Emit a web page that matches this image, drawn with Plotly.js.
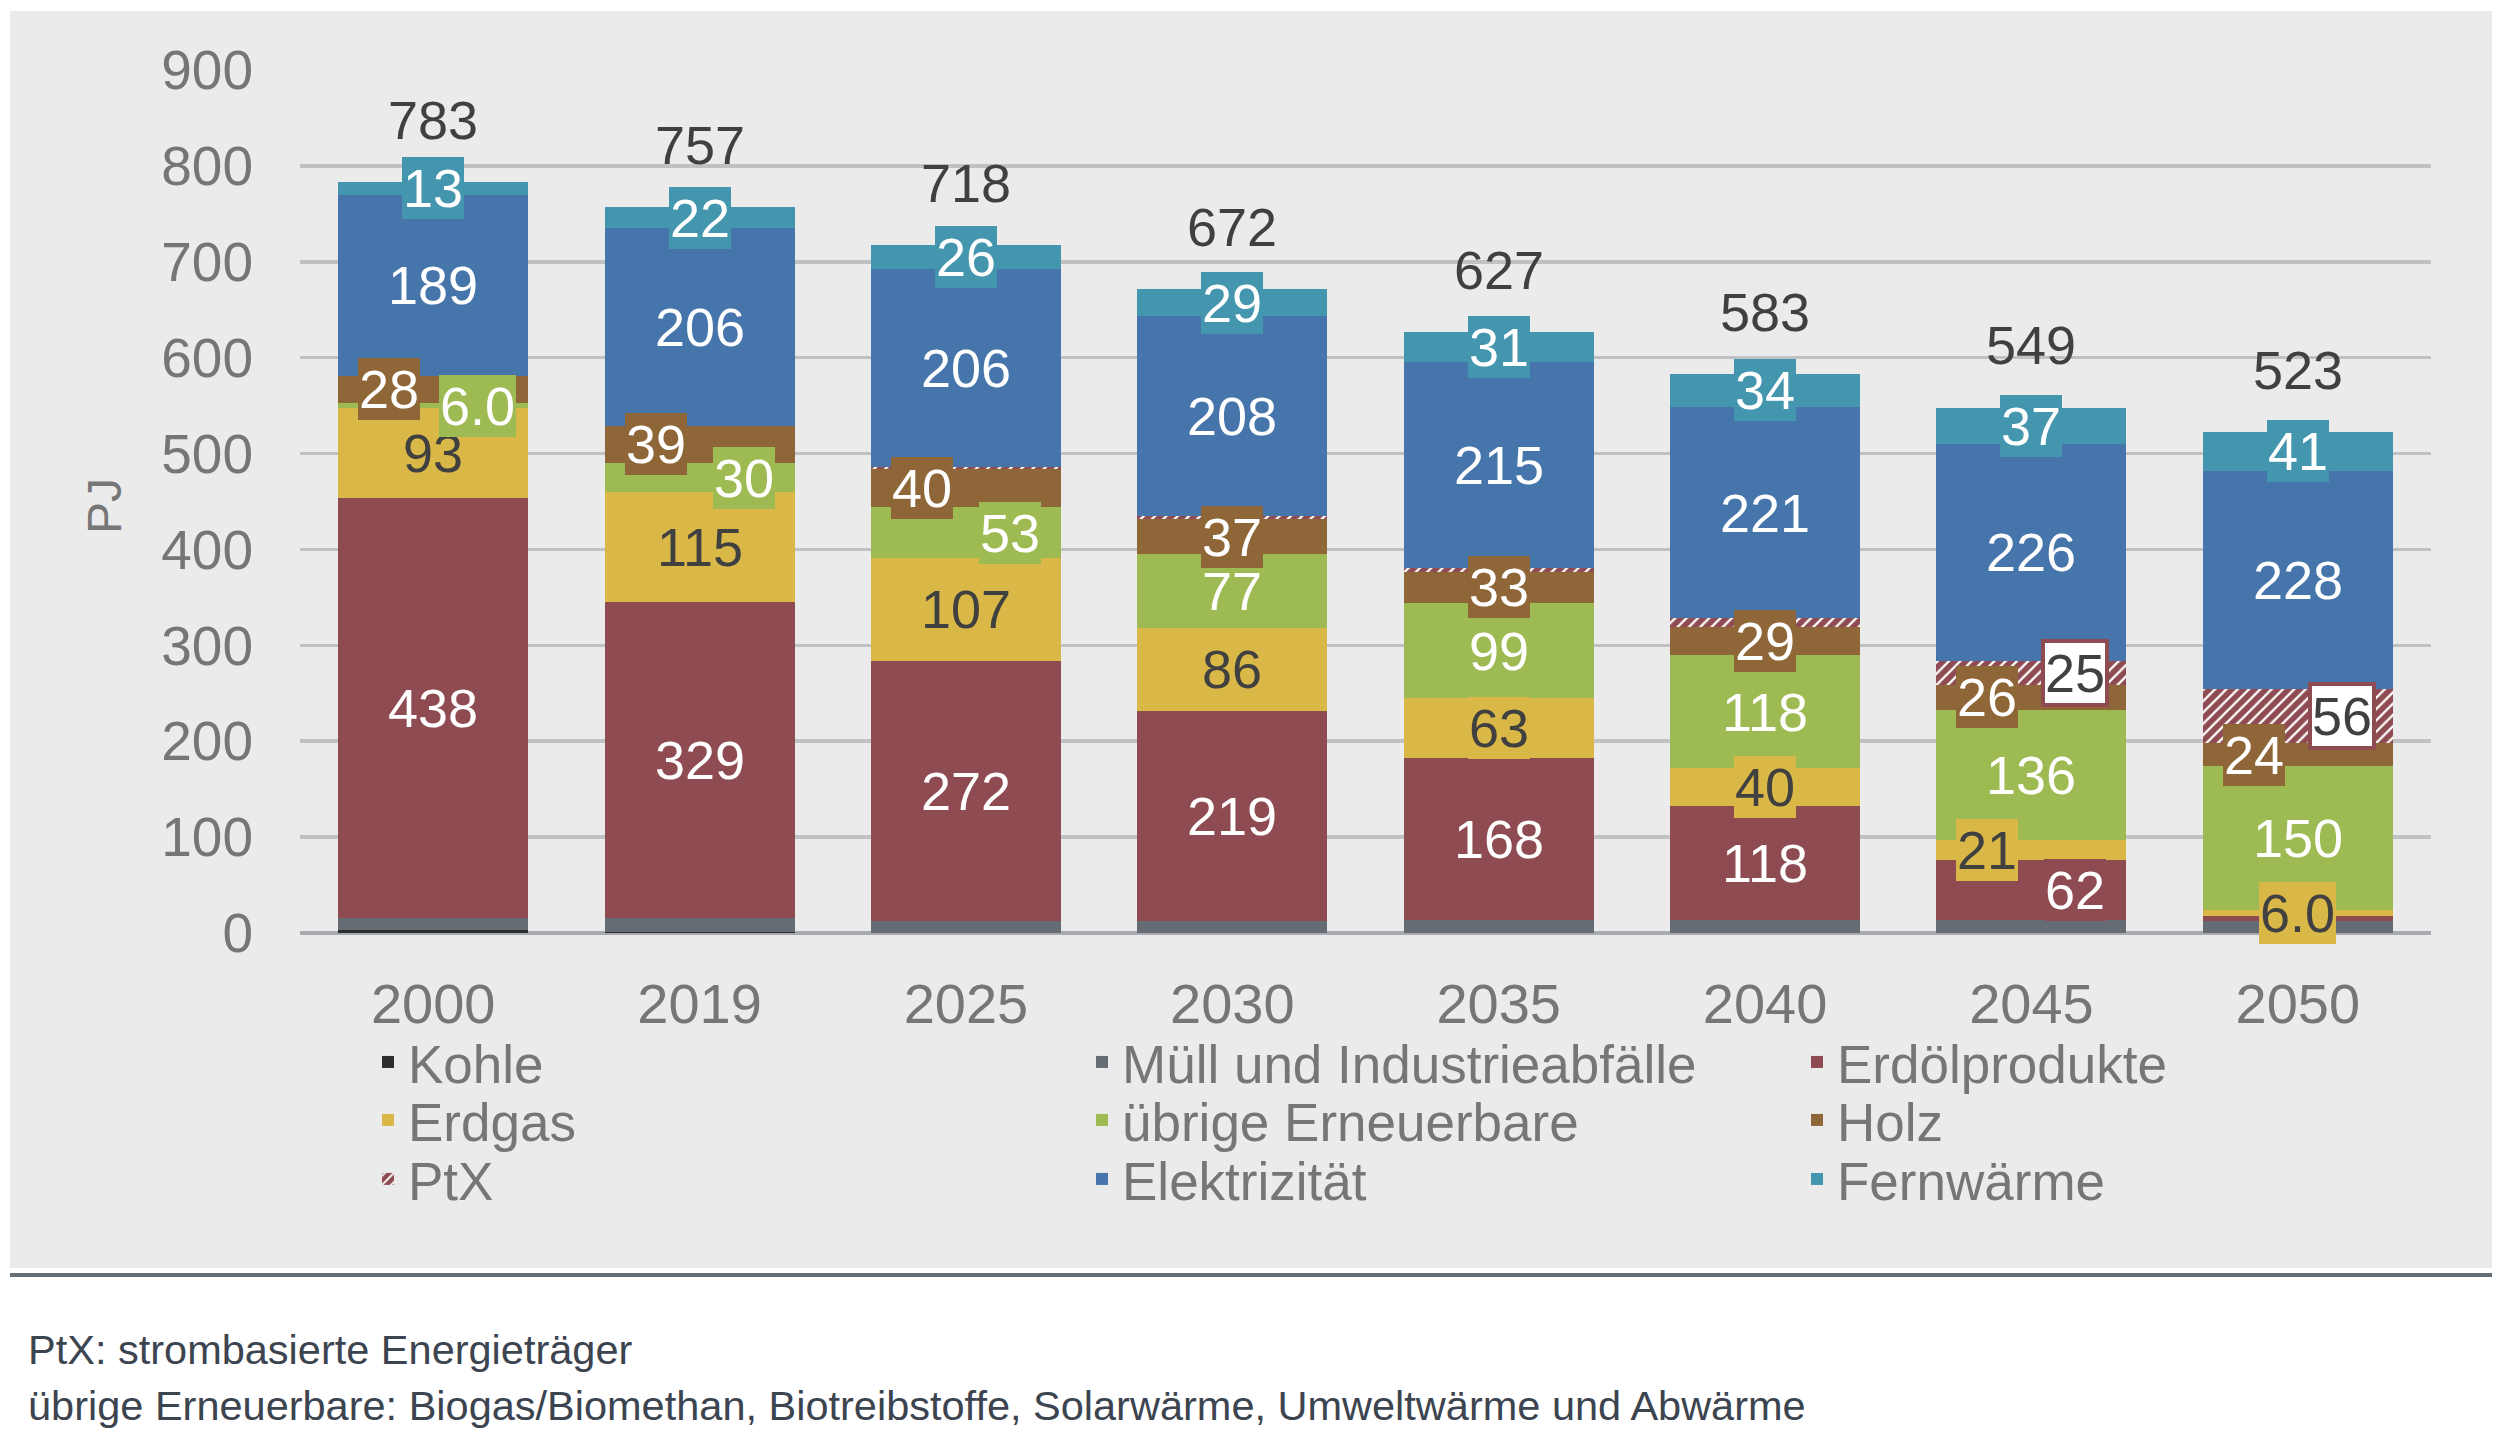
<!DOCTYPE html>
<html>
<head>
<meta charset="utf-8">
<script src="https://cdn.plot.ly/plotly-3.0.1.min.js"></script>
<style>
html, body { margin: 0; padding: 0; background: #ffffff; }
#chart { width: 2500px; height: 1443px; }
</style>
</head>
<body>
<div id="chart"></div>
<script>
// ---------- data ----------
const categories = ['2000', '2019', '2025', '2030', '2035', '2040', '2045', '2050'];
const kohle   = [3, 1, 0, 0, 0, 0, 0, 0];
const muell   = [13, 15, 12, 13, 14, 14, 14, 13];
const erdoel  = [438, 329, 272, 219, 168, 118, 62, 5];
const erdgas  = [93, 115, 107, 86, 63, 40, 21, 6];
const uebrige = [6, 30, 53, 77, 99, 118, 136, 150];
const holz    = [28, 39, 40, 37, 33, 29, 26, 24];
const ptx     = [0, 0, 2, 3, 4, 9, 25, 56];
const elek    = [189, 206, 206, 208, 215, 221, 226, 228];
const fern    = [13, 22, 26, 29, 31, 34, 37, 41];
const totals  = [783, 757, 718, 672, 627, 583, 549, 523];

const seriesNames = ['Kohle', 'Müll und Industrieabfälle', 'Erdölprodukte', 'Erdgas',
  'übrige Erneuerbare', 'Holz', 'PtX', 'Elektrizität', 'Fernwärme'];
const yAxisTitle = 'PJ';
const footnotes = ['PtX: strombasierte Energieträger',
  'übrige Erneuerbare: Biogas/Biomethan, Biotreibstoffe, Solarwärme, Umweltwärme und Abwärme'];

// ---------- styles ----------
const seriesValues = [kohle, muell, erdoel, erdgas, uebrige, holz, ptx, elek, fern];
const colors = ['#2e2e30', '#656c74', '#8f4b52', '#d9b847', '#9dbb52', '#8f6638', '#8f4b52', '#4675ab', '#4495ae'];
// legend grid: text start x (px) per column, row centre y (px) per row
const legendColX = [408, 1122, 1837];
const legendRowY = [1062, 1120, 1179];
// label rules (min value to show a label; null = never labelled)
const labelMin = [null, null, 6, 6, 6, 6, 20, 6, 6];
const labelTextColor = [null, null, '#ffffff', '#404040', '#ffffff', '#ffffff', '#404040', '#ffffff', '#ffffff'];
// horizontal label offsets (px) per series and category
const S = 44;
const labelShift = [
  [0,0,0,0,0,0,0,0],
  [0,0,0,0,0,0,0,0],
  [0,0,0,0,0,0,S,0],
  [0,0,0,0,0,0,-S,0],
  [S,S,S,0,0,0,0,0],
  [-S,-S,-S,0,0,0,-S,-S],
  [0,0,0,0,0,0,S,S],
  [0,0,0,0,0,0,0,0],
  [0,0,0,0,0,0,0,0]
];

const FONT = '"Liberation Sans", Arial, sans-serif';
const W = 2500, H = 1443;
const L = 300, R = 69, T = 70, B = 510;
const plotW = W - L - R, plotH = H - T - B;
function px2x(px) { return (px - L) / plotW; }
function py2y(py) { return (H - B - py) / plotH; }
function fmt(v) { return v < 10 ? v.toFixed(1) : String(v); }
function legendKey(s) { return s === 0 ? 'legend' : 'legend' + (s + 1); }

// ---------- traces ----------
const traces = seriesNames.map((name, s) => {
  const t = {
    type: 'bar',
    name: name,
    x: categories,
    y: seriesValues[s],
    legend: legendKey(s),
    marker: { color: colors[s], line: { width: 0 } },
    hoverinfo: 'skip'
  };
  if (name === 'PtX') {
    t.marker.pattern = { shape: '/', fgcolor: '#ffffff', bgcolor: colors[s], size: 8, solidity: 0.28 };
  }
  return t;
});

// ---------- annotations ----------
const annotations = [];
const cum = categories.map(() => 0);
seriesValues.forEach((vals, s) => {
  vals.forEach((v, i) => {
    const base = cum[i];
    cum[i] += v;
    if (labelMin[s] === null || v < labelMin[s]) return;
    const isPtx = seriesNames[s] === 'PtX';
    const needsBox = isPtx || labelShift[s][i] !== 0 || v < 80;
    annotations.push({
      x: i, y: base + v / 2, xref: 'x', yref: 'y',
      text: fmt(v), showarrow: false, xshift: labelShift[s][i],
      font: { family: FONT, size: 54, color: labelTextColor[s] },
      bgcolor: needsBox ? (isPtx ? '#ffffff' : colors[s]) : 'rgba(0,0,0,0)',
      bordercolor: isPtx ? colors[s] : 'rgba(0,0,0,0)',
      borderwidth: isPtx ? 4 : 0,
      borderpad: isPtx ? 0 : 1
    });
  });
});
totals.forEach((t, i) => {
  annotations.push({
    x: i, y: t, xref: 'x', yref: 'y', yanchor: 'bottom', yshift: 30,
    text: String(t), showarrow: false,
    font: { family: FONT, size: 54, color: '#404040' }
  });
});
footnotes.forEach((f, k) => {
  annotations.push({
    x: px2x(26), y: py2y(k === 0 ? 1349 : 1405), xref: 'paper', yref: 'paper',
    xanchor: 'left', yanchor: 'middle', text: f, showarrow: false,
    font: { family: FONT, size: 41.5, color: '#3c4450' }
  });
});
// y-axis title (placed as rotated text left of the tick labels)
annotations.push({
  x: px2x(104), y: py2y(506), xref: 'paper', yref: 'paper',
  xanchor: 'center', yanchor: 'middle', text: yAxisTitle, textangle: -90, showarrow: false,
  font: { family: FONT, size: 48, color: '#767676' }
});

// ---------- layout ----------
const layout = {
  width: W, height: H,
  margin: { l: L, r: R, t: T, b: B, autoexpand: false },
  paper_bgcolor: '#ffffff',
  plot_bgcolor: 'rgba(0,0,0,0)',
  barmode: 'stack',
  bargap: 0.287,
  showlegend: true,
  xaxis: {
    type: 'category', range: [-0.5, 7.5], showgrid: false, showline: false, zeroline: false, ticks: '',
    ticklabelstandoff: 33,
    tickfont: { family: FONT, size: 56, color: '#767676' },
    fixedrange: true
  },
  yaxis: {
    range: [0, 900], dtick: 100, tick0: 0, showline: false, ticks: '',
    gridcolor: '#bfc1c3', gridwidth: 3.5,
    zeroline: true, zerolinecolor: '#a7aaae', zerolinewidth: 4,
    ticklabelstandoff: 46,
    tickfont: { family: FONT, size: 55, color: '#767676' },
    fixedrange: true
  },
  shapes: [
    { type: 'rect', xref: 'paper', yref: 'paper', layer: 'below',
      x0: px2x(10), x1: px2x(2492), y0: py2y(1268), y1: py2y(11),
      fillcolor: '#ebebeb', line: { width: 0 } },
    { type: 'line', xref: 'paper', yref: 'paper',
      x0: px2x(10), x1: px2x(2492), y0: py2y(1275), y1: py2y(1275),
      line: { color: '#646c74', width: 4 } }
  ],
  annotations: annotations,
  font: { family: FONT }
};
seriesNames.forEach((name, s) => {
  const col = s % 3, row = Math.floor(s / 3);
  layout[legendKey(s)] = {
    orientation: 'v', xref: 'container', yref: 'container',
    x: (legendColX[col] - 40) / W, xanchor: 'left',
    y: 1 - legendRowY[row] / H, yanchor: 'middle',
    bgcolor: 'rgba(0,0,0,0)', borderwidth: 0,
    font: { family: FONT, size: 53, color: '#767676' }
  };
});

Plotly.newPlot('chart', traces, layout, { displayModeBar: false, staticPlot: true });
</script>
</body>
</html>
